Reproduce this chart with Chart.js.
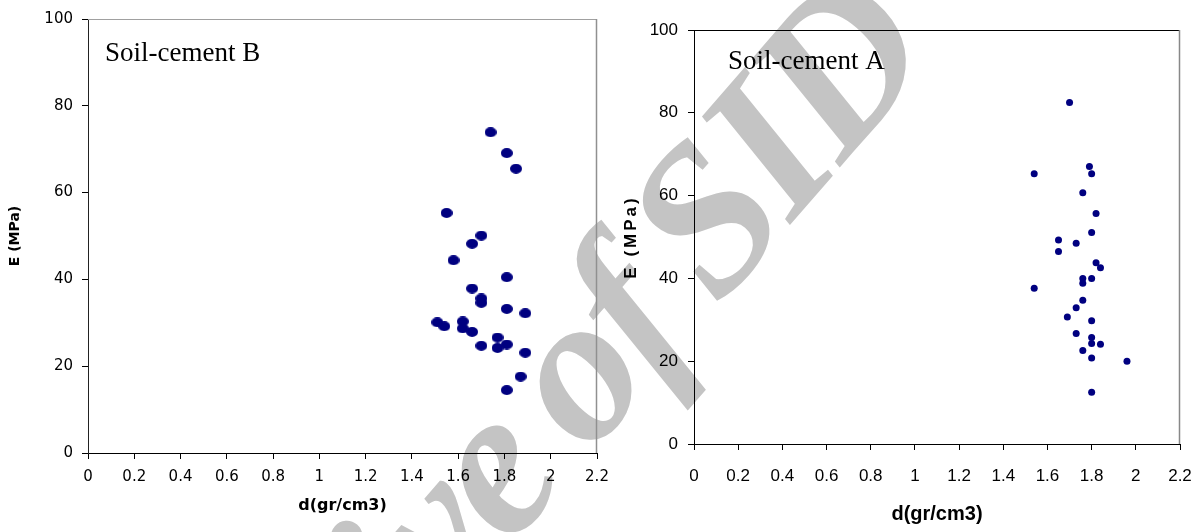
<!DOCTYPE html>
<html><head><meta charset="utf-8">
<script src="https://cdn.jsdelivr.net/npm/chart.js@4.4.1/dist/chart.umd.min.js"></script>
<style>
html,body{margin:0;padding:0;background:#fff;width:1200px;height:532px;overflow:hidden;}
#wm{position:absolute;left:150px;top:785px;font-family:'Liberation Serif','Times New Roman',serif;font-style:italic;font-weight:bold;font-size:210px;line-height:1;letter-spacing:-6px;word-spacing:-12px;color:#c4c4c4;white-space:nowrap;transform-origin:0px 176px;transform:rotate(-49deg);}
#c1{position:absolute;left:0;top:0;width:610px;height:532px;}
#c2{position:absolute;left:610px;top:0;width:590px;height:532px;}
</style></head><body>
<div id="wm">Archive of SID</div>
<canvas id="c1" width="610" height="532"></canvas>
<canvas id="c2" width="590" height="532"></canvas>
<script>
// ---- data ----
const leftDensity = [1.74,1.81,1.85,1.55,1.70,1.66,1.58,1.81,1.66,1.70,1.70,1.81,1.89,1.51,1.54,1.62,1.62,1.66,1.77,1.70,1.77,1.81,1.89,1.87,1.81];
const leftModulus = [73.9,69.1,65.5,55.3,50.1,48.2,44.4,40.5,37.9,35.6,34.6,33.2,32.2,30.1,29.2,30.3,28.7,27.9,26.6,24.7,24.2,25.0,23.1,17.6,14.5];
const rightDensity = [1.70,1.54,1.79,1.80,1.76,1.82,1.80,1.65,1.73,1.65,1.82,1.84,1.76,1.76,1.80,1.54,1.76,1.73,1.69,1.80,1.73,1.80,1.80,1.84,1.76,1.80,1.96,1.80];
const rightModulus = [82.5,65.3,67.0,65.3,60.7,55.7,51.1,49.3,48.5,46.5,43.8,42.6,40.0,38.8,40.0,37.6,34.7,32.9,30.7,29.8,26.7,25.7,24.3,24.1,22.6,20.8,20.0,12.5];
const xTickValues = [0,0.2,0.4,0.6,0.8,1,1.2,1.4,1.6,1.8,2,2.2];
const yTickValues = [0,20,40,60,80,100];
const leftLabel = 'Soil-cement B';
const rightLabel = 'Soil-cement A';
const xTitle = 'd(gr/cm3)';
const yTitle = 'E (MPa)';

Chart.defaults.font.family = "'Liberation Sans', Arial, sans-serif";
Chart.defaults.color = '#000';

function ellipseImg(w, h, color) {
  const c = document.createElement('canvas');
  c.width = w; c.height = h;
  const g = c.getContext('2d');
  g.fillStyle = color;
  g.beginPath();
  g.ellipse(w / 2, h / 2, w / 2, h / 2, 0, 0, Math.PI * 2);
  g.fill();
  return c;
}

function framePlugin(cfg) {
  return {
    id: 'frame',
    beforeDatasetsDraw(chart) {
      const a = chart.chartArea, ctx = chart.ctx;
      ctx.save();
      ctx.lineWidth = 1;
      ctx.strokeStyle = cfg.topColor;
      ctx.beginPath(); ctx.moveTo(a.left, Math.round(a.top) + 0.5); ctx.lineTo(a.right, Math.round(a.top) + 0.5); ctx.stroke();
      ctx.strokeStyle = cfg.rightColor;
      ctx.lineWidth = 1.5;
      ctx.beginPath(); ctx.moveTo(Math.round(a.right) - 0.5, a.top); ctx.lineTo(Math.round(a.right) - 0.5, a.bottom); ctx.stroke();
      ctx.restore();
    },
    afterDraw(chart) {
      const ctx = chart.ctx, a = chart.chartArea;
      ctx.save();
      ctx.font = cfg.labelFont;
      ctx.fillStyle = '#000';
      ctx.textBaseline = 'alphabetic';
      ctx.textAlign = 'left';
      ctx.fillText(cfg.label, cfg.labelX, cfg.labelY);
      ctx.restore();
      if (cfg.customYTitle) {
        ctx.save();
        ctx.font = cfg.customYTitle.font;
        ctx.fillStyle = '#000';
        ctx.letterSpacing = cfg.customYTitle.spacing;
        ctx.textAlign = 'center';
        ctx.textBaseline = 'middle';
        ctx.translate(cfg.customYTitle.x, (a.top + a.bottom) / 2);
        ctx.rotate(-Math.PI / 2);
        ctx.fillText(yTitle, 0, 0);
        ctx.restore();
      }
    }
  };
}

function makeChart(id, xs, ys, cfg) {
  const data = xs.map((x, i) => ({ x: x, y: ys[i] }));
  return new Chart(document.getElementById(id), {
    type: 'scatter',
    data: { datasets: [{ data: data, pointStyle: cfg.pointStyle, pointRadius: cfg.pointRadius,
      backgroundColor: '#000080', borderColor: '#000080', borderWidth: 0 }] },
    options: {
      responsive: false, animation: false, events: [],
      layout: { padding: cfg.padding },
      plugins: { legend: { display: false }, tooltip: { enabled: false } },
      scales: {
        x: {
          type: 'linear', min: 0, max: 2.2,
          afterBuildTicks: s => { s.ticks = xTickValues.map(v => ({ value: v })); },
          afterFit: s => { s.height = cfg.xHeight; s.paddingLeft = 0; s.paddingRight = 0; },
          grid: { drawOnChartArea: false, drawTicks: true, tickLength: 6, tickColor: '#000', tickWidth: 1 },
          border: { color: '#000', width: 1 },
          ticks: { font: cfg.xTickFont, padding: cfg.xTickPad, maxRotation: 0, autoSkip: false, color: '#000',
                   callback: v => String(v) },
          title: { display: true, text: xTitle, font: cfg.xTitleFont, color: '#000', padding: { top: 0, bottom: cfg.xTitlePad } }
        },
        y: {
          type: 'linear', min: 0, max: 100,
          afterBuildTicks: s => { s.ticks = yTickValues.map(v => ({ value: v })); },
          afterFit: s => { s.width = cfg.yWidth; s.paddingTop = 0; s.paddingBottom = 0; },
          grid: { drawOnChartArea: false, drawTicks: true, tickLength: 6, tickColor: '#000', tickWidth: 1 },
          border: { color: cfg.yBorder, width: 1 },
          ticks: { font: cfg.yTickFont, padding: cfg.yTickPad, color: '#000', callback: v => String(v) },
          title: { display: !cfg.customYTitle, text: yTitle, font: cfg.yTitleFont, color: '#000', padding: { top: cfg.yTitlePad, bottom: 0 } }
        }
      }
    },
    plugins: [framePlugin(cfg)]
  });
}

makeChart('c1', leftDensity, leftModulus, {
  pointStyle: ellipseImg(12, 10, '#000080'), pointRadius: 6,
  padding: { left: 0, top: 19, right: 13, bottom: 0 },
  xHeight: 79, yWidth: 88,
  xTickFont: { family: "'DejaVu Sans', sans-serif", size: 15 }, xTickPad: 9,
  xTitleFont: { family: "'DejaVu Sans', sans-serif", size: 16, weight: 'bold' }, xTitlePad: 17,
  yTickFont: { family: "'DejaVu Sans', sans-serif", size: 15 }, yTickPad: 9,
  yTitleFont: { family: "'DejaVu Sans', sans-serif", size: 14, weight: 'bold' }, yTitlePad: 7,
  yBorder: '#222',
  topColor: '#a0a0a0', rightColor: '#909090',
  label: leftLabel, labelX: 105, labelY: 61, labelFont: "27px 'Liberation Serif', 'Times New Roman', serif"
});

makeChart('c2', rightDensity, rightModulus, {
  pointStyle: 'circle', pointRadius: 3.5,
  padding: { left: 0, top: 30, right: 20, bottom: 0 },
  xHeight: 88, yWidth: 84,
  xTickFont: { family: "'Liberation Sans', Arial, sans-serif", size: 17 }, xTickPad: 16,
  xTitleFont: { family: "'Liberation Sans', Arial, sans-serif", size: 20, weight: 'bold' }, xTitlePad: 6,
  yTickFont: { family: "'Liberation Sans', Arial, sans-serif", size: 17 }, yTickPad: 10,
  yTitleFont: { family: "'Liberation Sans', Arial, sans-serif", size: 17, weight: 'bold' }, yTitlePad: 11,
  customYTitle: { font: "bold 17px 'Liberation Sans', Arial, sans-serif", spacing: '3px', x: 21 },
  yBorder: '#000',
  topColor: '#000', rightColor: '#888',
  label: rightLabel, labelX: 118, labelY: 69, labelFont: "27px 'Liberation Serif', 'Times New Roman', serif"
});
</script>
</body></html>
